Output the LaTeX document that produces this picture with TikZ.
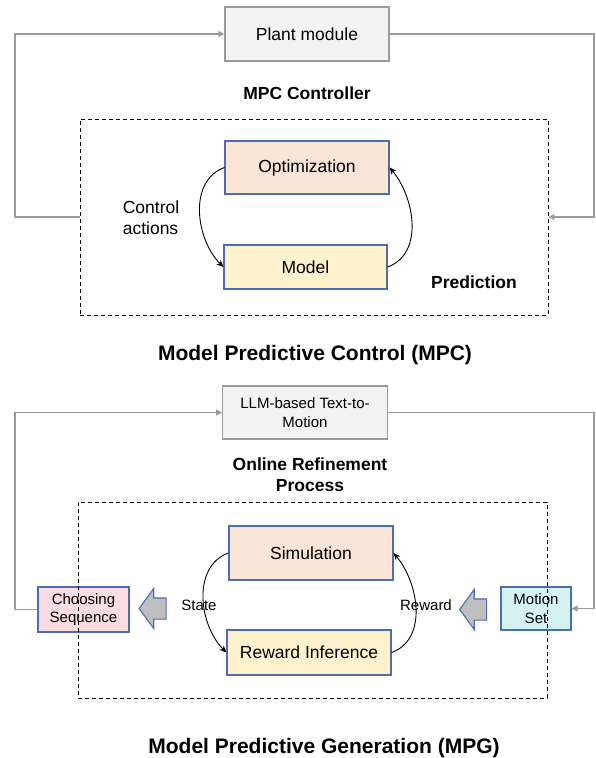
\documentclass[tikz,border=0pt]{standalone}
\usepackage{fontspec}
\setmainfont{Liberation Sans}
\usetikzlibrary{arrows.meta,positioning,shapes.arrows,calc}

\definecolor{boxgray}{HTML}{F3F3F3}
\definecolor{linegray}{HTML}{9A9A9A}
\definecolor{boxblue}{HTML}{4A6DB3}
\definecolor{peach}{HTML}{FCE5D6}
\definecolor{cream}{HTML}{FFF2CC}
\definecolor{pinkish}{HTML}{FADCE2}
\definecolor{aqua}{HTML}{D5F3F1}
\definecolor{arrowfill}{HTML}{BFBFBF}

\newcommand{\fsmain}{\fontsize{17.5}{21}\selectfont}
\newcommand{\fssmall}{\fontsize{15}{18.5}\selectfont}
\newcommand{\fstitle}{\fontsize{21}{25}\selectfont}

\tikzset{
    graybox/.style={draw=linegray, fill=boxgray, line width=1.3pt, minimum width=164pt, inner sep=0pt, align=center},
    bluebox/.style={draw=boxblue, line width=1.2pt, minimum width=164pt, inner sep=0pt, align=center, font=\fsmain},
    smallbox/.style={draw=boxblue, line width=1.2pt, inner sep=0pt, align=center, font=\fssmall},
    dashbox/.style={draw=black, line width=0.9pt, dash pattern=on 4pt off 3pt, inner sep=0pt},
    loopline/.style={draw=linegray, line width=1.3pt, -{Triangle[length=6pt,width=6pt]}},
    curvearrow/.style={draw=black, line width=0.9pt, -{Stealth[length=7pt,width=6pt]}},
    fatarrow/.style={single arrow, shape border rotate=180, draw=boxblue, fill=arrowfill, line width=1.1pt,
        minimum height=27pt, inner xsep=0pt, inner ysep=10pt, single arrow head extend=9.5pt,
        single arrow tip angle=108},
    boldlbl/.style={font=\fsmain\bfseries, align=center},
}

\begin{document}
\begin{tikzpicture}[x=1pt,y=1pt]
    \useasboundingbox (0,0) rectangle (596,-758);

    % Outer loop lines.
    \coordinate (lft) at (15,0);
    \coordinate (rgt) at (594,0);

    % Model predictive control.
    \node[graybox, minimum height=54pt, font=\fsmain] (plant) at (307,-34) {Plant module};
    \node[boldlbl] (ctrltitle) at (307,-93) {MPC Controller};
    \node[bluebox, fill=peach, minimum height=53pt] (opt) at (307,-167.5) {Optimization};
    \node[bluebox, fill=cream, minimum width=163pt, minimum height=44pt] (model) at (305.5,-267) {Model};
    \node[dashbox, minimum width=468pt, minimum height=196pt] (ctrl) at (314,-217) {};

    \draw[curvearrow] (opt.west) to[out=200,in=135] (model.west);
    \draw[curvearrow] (model.east) to[out=20,in=-50] (opt.east);
    \node[font=\fsmain, align=left] (actions) at (151,-218) {Control\\actions};
    \node[boldlbl] (pred) at (474,-282) {Prediction};

    \draw[loopline] (ctrl.west) -- (ctrl.west -| lft) |- (plant.west);
    \draw[loopline] (plant.east) -| (rgt |- ctrl.east) -- (ctrl.east);

    \node[font=\fstitle\bfseries] (mpc) at (315,-355) {Model Predictive Control (MPC)};

    % Model predictive generation.
    \node[graybox, minimum width=164.5pt, minimum height=53pt, font=\fssmall] (llm) at (305,-412.5) {LLM-based Text-to-\\Motion};
    \node[boldlbl] (refinetitle) at (310,-474.5) {Online Refinement\\Process};
    \node[bluebox, fill=peach, minimum height=54pt] (sim) at (311,-553) {Simulation};
    \node[bluebox, fill=cream, minimum height=45pt] (rinf) at (309,-652.5) {Reward Inference};
    \node[smallbox, fill=pinkish, minimum width=91pt, minimum height=45pt] (choose) at (83.5,-609.5) {Choosing\\Sequence};
    \node[smallbox, fill=aqua, minimum width=70pt, minimum height=43pt] (mset) at (536,-608.5) {Motion\\Set};
    \node[fatarrow] (larr) at (156.5,-608.5) {};
    \node[fatarrow] (rarr) at (477,-609.5) {};
    \node[dashbox, minimum width=469pt, minimum height=196pt] (refine) at (312.5,-600) {};

    \draw[curvearrow] (sim.west) to[out=200,in=135] (rinf.west);
    \draw[curvearrow] (rinf.east) to[out=20,in=-50] (sim.east);
    \node[font=\fssmall] (state) at (199,-605) {State};
    \node[font=\fssmall] (reward) at (426,-605) {Reward};

    \draw[loopline] (choose.west) -- (choose.west -| lft) |- (llm.west);
    \draw[loopline] (llm.east) -| (rgt |- mset.east) -- (mset.east);

    \node[font=\fstitle\bfseries] (mpg) at (324,-748) {Model Predictive Generation (MPG)};

\end{tikzpicture}
\end{document}
